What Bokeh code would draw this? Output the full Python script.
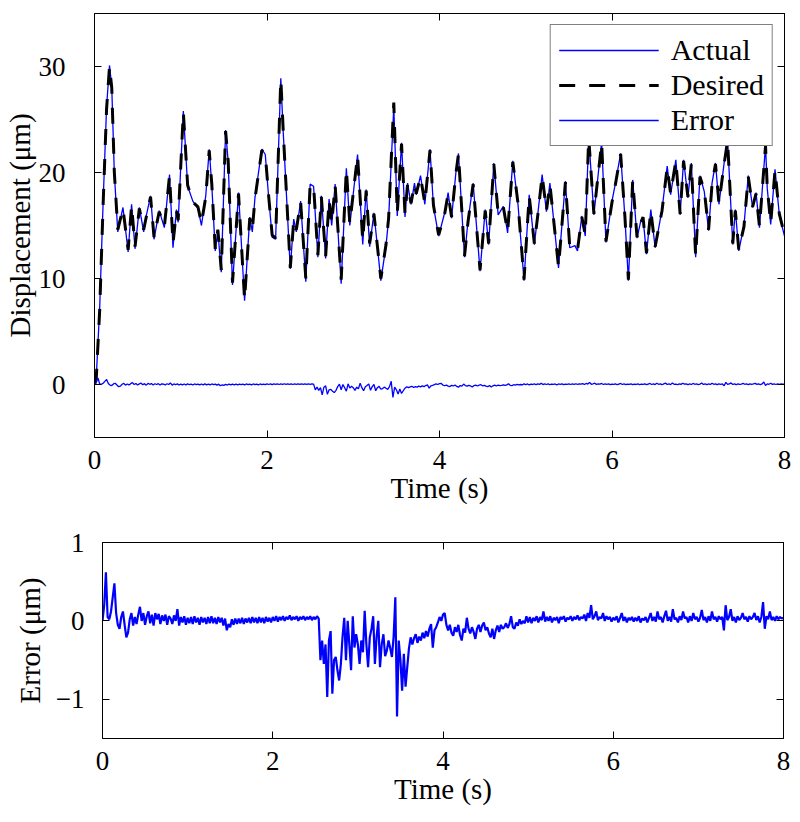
from bokeh.plotting import figure
from bokeh.models import (LinearAxis, Range1d, Legend, LegendItem, FixedTicker,
                          CustomLabelingPolicy, Spacer)
from bokeh.layouts import column, row
from bokeh.embed import file_html
from bokeh.resources import INLINE

FONT = "Liberation Serif"

# ---------------- data ----------------
des_t = [0.00, 0.02, 0.06, 0.10, 0.14, 0.174, 0.20, 0.23, 0.27, 0.33, 0.39, 0.43, 0.47, 0.52,
         0.57, 0.60, 0.65, 0.69, 0.75, 0.81, 0.87, 0.91, 0.95, 0.97, 1.03, 1.08, 1.14, 1.20,
         1.24, 1.29, 1.33, 1.36, 1.40, 1.43, 1.47, 1.52, 1.55, 1.60, 1.67, 1.74, 1.80, 1.83,
         1.86, 1.94, 1.98, 2.02, 2.06, 2.10, 2.16, 2.19, 2.27, 2.31, 2.34, 2.39, 2.45, 2.50,
         2.54, 2.59, 2.63, 2.68, 2.72, 2.75, 2.79, 2.86, 2.92, 2.96, 3.05, 3.11, 3.15, 3.19,
         3.24, 3.32, 3.38, 3.41, 3.47, 3.51, 3.56, 3.60, 3.63, 3.67, 3.71, 3.73, 3.78, 3.83,
         3.89, 3.93, 3.99, 4.06, 4.10, 4.14, 4.19, 4.22, 4.29, 4.33, 4.39, 4.47, 4.53, 4.57,
         4.63, 4.68, 4.74, 4.79, 4.85, 4.91, 4.98, 5.04, 5.10, 5.14, 5.19, 5.24, 5.28, 5.38,
         5.46, 5.51, 5.57, 5.60, 5.65, 5.69, 5.73, 5.79, 5.88, 5.93, 6.00, 6.04, 6.10, 6.15,
         6.19, 6.24, 6.29, 6.33, 6.36, 6.40, 6.45, 6.50, 6.58, 6.64, 6.68, 6.74, 6.79, 6.83,
         6.88, 6.92, 6.97, 7.02, 7.07, 7.12, 7.16, 7.20, 7.24, 7.30, 7.34, 7.40, 7.43, 7.47,
         7.53, 7.58, 7.63, 7.67, 7.71, 7.78, 7.80, 7.84, 7.89, 7.94, 8.00]

desired = [0.0, 0.5, 7.0, 17.0, 26.0, 30.0, 28.0, 20.0, 14.6, 16.6, 12.7, 16.9, 13.0, 16.6,
           14.6, 15.8, 17.7, 13.9, 16.3, 14.9, 19.7, 13.3, 16.4, 15.5, 25.7, 18.8, 17.2, 16.75,
           15.2, 17.7, 22.1, 18.9, 12.8, 14.6, 10.8, 23.9, 21.1, 9.6, 18.0, 8.0, 15.7, 14.6,
           17.5, 22.1, 21.75, 17.7, 14.1, 13.8, 28.8, 23.6, 11.0, 15.5, 14.6, 17.2, 10.0, 18.8,
           18.8, 12.2, 17.7, 12.1, 17.4, 15.2, 18.8, 9.9, 20.3, 15.2, 21.6, 13.6, 18.3, 13.3,
           16.1, 10.0, 13.2, 15.7, 26.6, 16.1, 22.7, 16.1, 18.9, 17.1, 18.9, 18.0, 19.6, 17.1,
           22.1, 16.9, 14.1, 16.1, 18.0, 15.8, 19.9, 21.75, 12.1, 15.3, 18.9, 10.8, 16.4, 13.3,
           20.8, 16.1, 16.75, 14.4, 21.0, 17.1, 9.9, 17.8, 13.3, 16.0, 19.7, 16.4, 18.9, 11.1,
           19.1, 13.0, 13.0, 12.7, 15.8, 14.1, 23.3, 16.1, 22.8, 13.5, 17.2, 18.9, 21.75, 15.8,
           9.9, 19.25, 13.9, 15.2, 15.8, 12.4, 16.4, 13.0, 16.4, 20.5, 18.0, 21.1, 16.1, 21.1,
           17.7, 20.8, 12.1, 19.6, 18.3, 14.6, 18.9, 20.8, 17.1, 20.8, 23.0, 13.3, 16.4, 12.7,
           14.9, 19.6, 16.75, 18.0, 14.9, 22.5, 18.6, 15.2, 20.2, 16.1, 14.1]

actual = [0.0, 0.6, 7.2, 17.2, 26.2, 30.1, 28.1, 19.9, 14.4, 16.7, 12.5, 17.0, 12.8, 16.7,
          14.4, 15.9, 17.8, 13.7, 16.4, 14.8, 19.8, 12.9, 16.5, 15.3, 25.8, 18.7, 17.3, 16.6,
          15.0, 17.8, 22.2, 18.8, 12.6, 14.5, 10.6, 24.0, 21.0, 9.4, 18.1, 7.9, 15.8, 14.4,
          17.6, 22.2, 21.7, 17.6, 13.9, 13.7, 28.9, 23.5, 10.9, 15.6, 14.4, 17.3, 9.7, 18.9,
          18.7, 12.0, 17.8, 11.9, 17.5, 15.0, 18.9, 9.5, 20.4, 15.0, 21.7, 13.2, 18.4, 13.0,
          16.2, 9.8, 13.1, 15.6, 26.2, 15.9, 22.8, 15.8, 19.0, 17.0, 19.0, 17.9, 19.7, 17.0,
          22.2, 16.8, 14.0, 16.2, 18.1, 15.7, 20.0, 21.8, 12.0, 15.4, 19.0, 10.7, 16.5, 13.2,
          20.9, 16.0, 16.8, 14.3, 21.1, 17.0, 9.8, 17.9, 13.2, 16.1, 19.8, 16.3, 19.0, 11.0,
          19.2, 12.9, 13.1, 12.6, 15.9, 14.0, 23.4, 16.0, 22.9, 13.4, 17.3, 19.0, 21.8, 15.7,
          9.8, 19.3, 13.8, 15.3, 15.7, 12.3, 16.5, 12.9, 16.5, 20.6, 17.9, 21.2, 16.0, 21.2,
          17.6, 20.9, 12.0, 19.7, 18.2, 14.5, 19.0, 20.9, 17.0, 20.9, 23.1, 13.2, 16.5, 12.6,
          15.0, 19.7, 16.7, 18.1, 14.8, 22.6, 18.5, 15.1, 20.3, 16.0, 14.0]

# error sampled every 0.02 s from 0 to 8 s
err_dt = 0.02
error = [
    0.00, 0.20, 0.62, 0.05, 0.02, 0.12, 0.30, 0.48, 0.10, -0.05,
    -0.10, 0.05, 0.12, -0.05, -0.21, -0.15, 0.02, 0.10, -0.06, 0.05,
    -0.04, 0.08, 0.18, 0.00, 0.10, -0.05, 0.06, 0.12, -0.03, 0.08,
    -0.06, 0.10, 0.02, 0.09, -0.04, 0.07, 0.00, 0.08, -0.05, 0.06,
    0.03, -0.04, 0.07, 0.00, 0.15, -0.06, 0.05, -0.02, 0.06, -0.05,
    0.04, -0.03, 0.05, -0.04, 0.06, -0.02, 0.04, -0.05, 0.05, -0.02,
    0.04, -0.04, 0.05, -0.03, 0.06, -0.03, 0.04, -0.04, 0.05, -0.02,
    0.04, -0.06, 0.03, -0.12, -0.04, -0.08, 0.02, -0.05, 0.03, -0.04,
    0.03, -0.03, 0.04, -0.04, 0.03, -0.02, 0.04, -0.03, 0.05, -0.02,
    0.04, -0.03, 0.05, -0.02, 0.04, -0.03, 0.05, -0.01, 0.04, -0.02,
    0.05, 0.00, 0.06, -0.01, 0.05, 0.01, 0.06, 0.00, 0.05, 0.02,
    0.07, 0.01, 0.05, 0.02, 0.06, 0.00, 0.05, 0.02, 0.06, 0.01,
    0.05, 0.02, 0.06, 0.01, 0.05, 0.02, 0.06, 0.03, -0.50, -0.25,
    -0.55, -0.30, -0.97, -0.25, -0.13, -0.93, -0.50, -0.46, -0.63, -0.76,
    -0.55, -0.20, 0.04, -0.50, 0.00, -0.30, -0.63, 0.06, -0.34, -0.17,
    -0.30, -0.55, -0.25, -0.40, 0.13, -0.30, -0.59, -0.21, -0.10, 0.06,
    -0.55, -0.20, 0.00, -0.59, -0.30, -0.17, -0.45, -0.38, -0.25, -0.35,
    -0.46, -0.20, 0.30, -1.22, -0.25, -0.50, -0.89, -0.42, -0.84, -0.59,
    -0.35, -0.21, -0.30, -0.22, -0.17, -0.28, -0.20, -0.25, -0.15, -0.22,
    -0.13, -0.20, -0.10, -0.04, -0.34, -0.12, -0.08, -0.02, 0.05, 0.00,
    0.08, 0.10, -0.05, -0.12, -0.05, -0.15, -0.19, -0.08, -0.14, -0.05,
    -0.18, -0.25, -0.10, -0.15, 0.04, -0.10, -0.16, -0.08, -0.14, -0.23,
    -0.10, -0.05, -0.14, -0.06, -0.02, -0.12, -0.08, -0.16, -0.21, -0.10,
    -0.23, -0.12, -0.06, -0.14, -0.05, -0.10, -0.08, -0.03, -0.09, -0.04,
    0.06, -0.08, -0.10, -0.02, -0.06, 0.02, -0.04, 0.00, -0.03, 0.06,
    -0.02, 0.05, -0.03, 0.04, 0.00, 0.06, -0.02, 0.05, 0.01, 0.12,
    -0.01, 0.05, 0.00, 0.06, -0.02, 0.04, 0.01, 0.05, -0.03, 0.05,
    0.02, 0.06, -0.01, 0.04, 0.02, 0.06, 0.00, 0.05, 0.02, 0.07,
    0.01, 0.05, 0.03, 0.08, 0.00, 0.10, 0.04, 0.20, 0.02, 0.06,
    0.12, 0.01, 0.05, 0.03, 0.10, 0.00, 0.06, 0.02, 0.05, -0.01,
    0.04, 0.01, 0.06, -0.02, 0.04, 0.10, 0.00, 0.05, -0.02, 0.04,
    0.01, 0.05, -0.01, 0.04, 0.00, 0.06, -0.02, 0.03, 0.01, 0.05,
    -0.02, 0.04, 0.10, 0.00, 0.05, -0.01, 0.12, 0.02, 0.05, -0.02,
    0.06, 0.13, 0.00, 0.05, -0.01, 0.15, 0.02, 0.04, -0.02, 0.06,
    0.01, 0.12, 0.03, 0.05, -0.02, 0.06, 0.00, 0.10, 0.02, 0.05,
    -0.01, 0.04, 0.14, 0.01, 0.05, -0.02, 0.06, 0.00, 0.12, 0.02,
    0.05, -0.01, 0.06, 0.02, 0.05, -0.12, 0.20, 0.01, 0.05, 0.15,
    0.00, 0.05, -0.02, 0.06, 0.01, 0.04, 0.10, 0.02, 0.05, -0.01,
    0.06, 0.02, 0.05, 0.10, 0.01, 0.06, -0.02, 0.05, 0.24, -0.10,
    0.06, 0.02, 0.12, 0.01, 0.05, 0.00, 0.06, 0.02, 0.05, 0.03,
    0.04,
]
err_t = [i * err_dt for i in range(len(error))]

x_ticks = [0, 2, 4, 6, 8]
top_y_ticks = [0, 10, 20, 30]
bot_y_ticks = [-1, 0, 1]
bot_labels = {-1: "\u22121", 0: "0", 1: "1"}

BLUE = "#0000FF"

HIDE_LABELS = CustomLabelingPolicy(code="""
    const ids = [...indices]
    for (const i of ids) indices.unset(i)
    return indices
""")


def style(p, yticks, xlabel, ylabel, y_std, y_lab_std, overrides=None):
    p.xgrid.visible = False
    p.ygrid.visible = False
    p.outline_line_color = "black"
    p.outline_line_width = 1
    p.background_fill_color = "white"
    p.border_fill_color = "white"
    for ax, ticks in ((p.xaxis[0], x_ticks), (p.yaxis[0], yticks)):
        ax.ticker = FixedTicker(ticks=ticks)
        ax.axis_line_color = "black"
        ax.major_tick_line_color = "black"
        ax.major_tick_in = 7
        ax.major_tick_out = 0
        ax.minor_tick_line_color = None
        ax.major_label_text_font = FONT
        ax.major_label_text_font_size = "27px"
        ax.major_label_text_color = "black"
        ax.axis_label_text_font = FONT
        ax.axis_label_text_font_size = "29px"
        ax.axis_label_text_font_style = "normal"
        ax.axis_label_text_color = "black"
    p.xaxis[0].axis_label = xlabel
    p.yaxis[0].axis_label = ylabel
    p.xaxis[0].major_label_standoff = 13
    p.xaxis[0].axis_label_standoff = 0
    p.yaxis[0].major_label_standoff = y_std
    p.yaxis[0].axis_label_standoff = y_lab_std
    if overrides:
        p.yaxis[0].major_label_overrides = overrides
    # mirrored axes (top and right) with inward ticks, no labels
    for side, ticks in (("above", x_ticks), ("right", yticks)):
        ax = LinearAxis(ticker=FixedTicker(ticks=ticks))
        ax.axis_line_color = "black"
        ax.major_tick_line_color = "black"
        ax.major_tick_in = 7
        ax.major_tick_out = 0
        ax.minor_tick_line_color = None
        ax.major_label_policy = HIDE_LABELS
        ax.major_label_text_font_size = "1px"
        ax.major_label_standoff = 0
        p.add_layout(ax, side)


# ---------------- top figure ----------------
p1 = figure(frame_width=690, frame_height=424, x_range=Range1d(0, 8), y_range=Range1d(-5, 35),
            output_backend="svg", toolbar_location=None,
            min_border_left=93, min_border_right=12, min_border_top=13, min_border_bottom=80)
style(p1, top_y_ticks, "Time (s)", "Displacement (\u03bcm)", 29, 0)

r_act = p1.line(des_t, actual, line_color=BLUE, line_width=1.3)
r_des = p1.line(des_t, desired, line_color="black", line_width=3, line_dash="16 14")
r_err = p1.line(err_t, error, line_color=BLUE, line_width=1.3)

legend = Legend(items=[LegendItem(label="Actual", renderers=[r_act]),
                       LegendItem(label="Desired", renderers=[r_des]),
                       LegendItem(label="Error", renderers=[r_err])],
                location="top_right")
legend.margin = 11
legend.padding = 8
legend.spacing = 1
legend.glyph_width = 100
legend.glyph_height = 30
legend.label_height = 30
legend.label_standoff = 12
legend.label_text_font = FONT
legend.label_text_font_size = "30px"
legend.label_text_color = "black"
legend.border_line_color = "black"
legend.border_line_width = 1
legend.background_fill_color = "white"
legend.background_fill_alpha = 1.0
p1.add_layout(legend)

# ---------------- bottom figure ----------------
p2 = figure(frame_width=681, frame_height=196, x_range=Range1d(0, 8), y_range=Range1d(-1.5, 1),
            output_backend="svg", toolbar_location=None,
            min_border_left=93, min_border_right=12, min_border_top=25, min_border_bottom=78)
style(p2, bot_y_ticks, "Time (s)", "Error (\u03bcm)", 18, 7, overrides=bot_labels)
p2.xaxis[0].axis_label_standoff = -3
p2.line(err_t, error, line_color=BLUE, line_width=2.2)

layout = column(p1, row(Spacer(width=9, height=10), p2))
open("out.html", "w").write(file_html(layout, INLINE))
